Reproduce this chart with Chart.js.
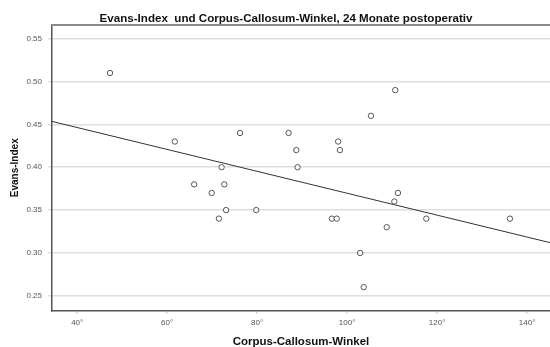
<!DOCTYPE html>
<html>
<head>
<meta charset="utf-8">
<script src="https://cdn.jsdelivr.net/npm/chart.js@4/dist/chart.umd.min.js"></script>
<style>
  html, body { margin: 0; padding: 0; background: #fff; overflow: hidden; }
  canvas { display: block; }
</style>
</head>
<body>
<canvas id="scatter" width="550" height="347"></canvas>
<script>
// Corpus-Callosum-Winkel (degrees) and Evans-Index, 24 months post-op
const winkel = [47.3, 61.7, 72.1, 76.2, 87.0, 88.7, 89.0, 98.0, 98.4, 105.3, 110.7,
                66.0, 69.9, 72.7, 73.1, 71.5, 79.8, 96.6, 97.7, 108.8, 110.5, 111.3,
                117.6, 136.2, 102.9, 103.7];
const evans  = [0.51, 0.43, 0.40, 0.44, 0.44, 0.42, 0.40, 0.43, 0.42, 0.46, 0.49,
                0.38, 0.37, 0.38, 0.35, 0.34, 0.35, 0.34, 0.34, 0.33, 0.36, 0.37,
                0.34, 0.34, 0.30, 0.26];

// fit line end points
const fitX = [34.4, 145.1];
const fitY = [0.4535, 0.312];

const xTicks = [40, 60, 80, 100, 120, 140];
const yTicks = [0.25, 0.30, 0.35, 0.40, 0.45, 0.50, 0.55];

const chartTitle = "Evans-Index  und Corpus-Callosum-Winkel, 24 Monate postoperativ";
const xTitle = "Corpus-Callosum-Winkel";
const yTitle = "Evans-Index";

const labelsPlugin = {
  id: "labels",
  afterDraw(chart) {
    const { ctx, chartArea: a } = chart;
    ctx.save();
    // top frame line
    ctx.strokeStyle = "#8a8a8a";
    ctx.lineWidth = 2;
    ctx.beginPath();
    ctx.moveTo(a.left - 1, a.top);
    ctx.lineTo(a.right, a.top);
    ctx.stroke();

    ctx.fillStyle = "#111";
    ctx.textAlign = "center";
    ctx.textBaseline = "alphabetic";
    ctx.font = 'bold 11.6px "Liberation Sans", Arial, sans-serif';
    ctx.fillText(chartTitle, 286, 22);

    ctx.font = 'bold 11.5px "Liberation Sans", Arial, sans-serif';
    ctx.fillText(xTitle, (a.left + a.right) / 2, 345);

    ctx.translate(18, (a.top + a.bottom) / 2);
    ctx.rotate(-Math.PI / 2);
    ctx.font = 'bold 10px "Liberation Sans", Arial, sans-serif';
    ctx.fillText(yTitle, 0, 0);
    ctx.restore();
  },
};

new Chart(document.getElementById("scatter").getContext("2d"), {
  type: "scatter",
  data: {
    datasets: [
      {
        label: "Evans-Index",
        data: winkel.map((w, i) => ({ x: w, y: evans[i] })),
        pointRadius: 2.7,
        pointBorderWidth: 1,
        borderColor: "#555",
        backgroundColor: "#fff",
        pointHoverRadius: 2.7,
      },
      {
        type: "line",
        label: "Fit",
        data: fitX.map((x, i) => ({ x, y: fitY[i] })),
        borderColor: "#333",
        borderWidth: 1,
        pointRadius: 0,
        fill: false,
      },
    ],
  },
  options: {
    responsive: false,
    animation: false,
    devicePixelRatio: 1,
    layout: { autoPadding: false, padding: { top: 25, right: 0, left: 0, bottom: 0 } },
    plugins: {
      legend: { display: false },
      tooltip: { enabled: false },
    },
    scales: {
      x: {
        type: "linear",
        min: 34.4,
        max: 145.1,
        afterBuildTicks: (s) => { s.ticks = xTicks.map((v) => ({ value: v })); },
        afterFit: (s) => { s.height = 36.5; s.paddingLeft = 0; s.paddingRight = 0; },
        ticks: {
          callback: (v) => v + "°",
          color: "#555",
          font: { size: 8, family: "Liberation Sans" },
          padding: 4,
          maxRotation: 0,
        },
        grid: { drawOnChartArea: false, drawTicks: true, tickLength: 3, color: "#cfcfcf", lineWidth: 1.5 },
        border: { color: "#555", width: 1.5 },
      },
      y: {
        type: "linear",
        min: 0.2328,
        max: 0.566,
        afterBuildTicks: (s) => { s.ticks = yTicks.map((v) => ({ value: v })); },
        afterFit: (s) => { s.width = 52; s.paddingTop = 0; s.paddingBottom = 0; },
        ticks: {
          callback: (v) => v.toFixed(2),
          color: "#555",
          font: { size: 8, family: "Liberation Sans" },
          padding: 6,
        },
        grid: { color: "#dedede", lineWidth: 1.5, tickLength: 4 },
        border: { color: "#555", width: 1.5 },
      },
    },
  },
  plugins: [labelsPlugin],
});
</script>
</body>
</html>
